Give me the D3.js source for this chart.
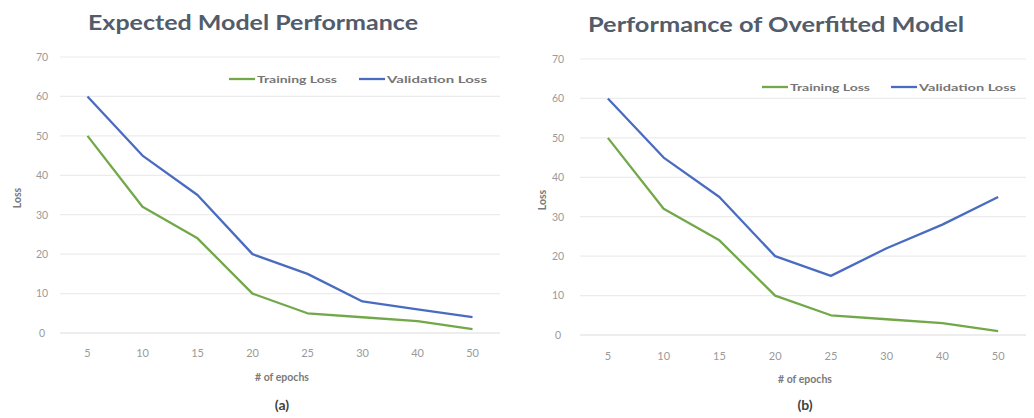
<!DOCTYPE html>
<html>
<head>
<meta charset="utf-8">
<script src="https://cdn.jsdelivr.net/npm/d3@7"></script>
<style>
  html, body { margin: 0; padding: 0; background: #ffffff; }
  svg { display: block; }
  text { font-family: Lato, "Open Sans", sans-serif; }
</style>
</head>
<body>
<svg id="chart" width="1034" height="418"></svg>
<script>
// Epoch categories shared by both panels
const epochs = ["5", "10", "15", "20", "25", "30", "40", "50"];

// Panel (a): well-behaved training
const trainingLossA = [50, 32, 24, 10, 5, 4, 3, 1];
const validationLossA = [60, 45, 35, 20, 15, 8, 6, 4];

// Panel (b): overfitting after epoch 25
const trainingLossB = [50, 32, 24, 10, 5, 4, 3, 1];
const validationLossB = [60, 45, 35, 20, 15, 22, 28, 35];

const yTicks = [0, 10, 20, 30, 40, 50, 60, 70];
const seriesNames = ["Training Loss", "Validation Loss"];
const panelTitles = ["Expected Model Performance", "Performance of Overfitted Model"];
const panelTags = ["(a)", "(b)"];

const COLORS = { train: "#72a84a", val: "#4a6cc0" };

const svg = d3.select("#chart");

function drawPanel(cfg) {
  const g = svg.append("g");
  const x = d3.scaleBand().domain(epochs).range([cfg.x0, cfg.x1]);
  const y = d3.scaleLinear().domain([0, 70]).range([cfg.yBottom, cfg.yTop]);

  // horizontal gridlines
  g.append("g")
    .selectAll("line")
    .data(yTicks)
    .join("line")
    .attr("x1", cfg.x0)
    .attr("x2", cfg.x1)
    .attr("y1", d => y(d))
    .attr("y2", d => y(d))
    .attr("stroke", d => d === 0 ? "#dcdcdc" : "#ececec")
    .attr("stroke-width", 1.2);

  // y axis labels
  const yAxis = d3.axisLeft(y).tickValues(yTicks).tickSize(0).tickPadding(0);
  g.append("g")
    .attr("transform", `translate(${cfg.yLabelX},0)`)
    .call(yAxis)
    .call(s => s.select(".domain").remove())
    .call(s => s.selectAll("text")
      .attr("fill", "#9a9a9a")
      .attr("font-size", 10.5)
      .attr("text-anchor", "middle"));

  // x axis labels
  const xAxis = d3.axisBottom(x).tickSize(0).tickPadding(0);
  g.append("g")
    .attr("transform", `translate(0,${cfg.xLabelY})`)
    .call(xAxis)
    .call(s => s.select(".domain").remove())
    .call(s => s.selectAll("text")
      .attr("fill", "#9a9a9a")
      .attr("font-size", 11));

  const line = d3.line()
    .x((d, i) => x(epochs[i]) + x.bandwidth() / 2)
    .y(d => y(d));

  g.append("path")
    .datum(cfg.train)
    .attr("d", line)
    .attr("fill", "none")
    .attr("stroke", COLORS.train)
    .attr("stroke-width", 2.3)
    .attr("stroke-linejoin", "round");

  g.append("path")
    .datum(cfg.val)
    .attr("d", line)
    .attr("fill", "none")
    .attr("stroke", COLORS.val)
    .attr("stroke-width", 2.3)
    .attr("stroke-linejoin", "round");

  // title
  g.append("text")
    .attr("x", cfg.titleX)
    .attr("y", cfg.titleY)
    .attr("text-anchor", "middle")
    .attr("font-size", 21)
    .attr("font-weight", 700)
    .attr("fill", "#525c6b")
    .attr("textLength", cfg.titleW)
    .attr("lengthAdjust", "spacingAndGlyphs")
    .text(cfg.title);

  // legend
  const legend = g.append("g").attr("transform", `translate(0,${cfg.legendY})`);
  const items = [
    { name: seriesNames[0], color: COLORS.train, lx: cfg.legendX[0], tw: cfg.legendTW[0] },
    { name: seriesNames[1], color: COLORS.val, lx: cfg.legendX[1], tw: cfg.legendTW[1] }
  ];
  items.forEach(it => {
    legend.append("line")
      .attr("x1", it.lx).attr("x2", it.lx + 26)
      .attr("y1", 0).attr("y2", 0)
      .attr("stroke", it.color).attr("stroke-width", 2.3);
    legend.append("text")
      .attr("x", it.lx + 28)
      .attr("y", 3.5)
      .attr("font-size", 10)
      .attr("font-weight", 700)
      .attr("fill", "#767676")
      .attr("textLength", it.tw)
      .attr("lengthAdjust", "spacingAndGlyphs")
      .text(it.name);
  });

  // axis titles
  g.append("text")
    .attr("transform", `translate(${cfg.lossX},${(cfg.yTop + cfg.yBottom) / 2 + 3}) rotate(-90)`)
    .attr("text-anchor", "middle")
    .attr("font-size", 10.5)
    .attr("font-weight", 700)
    .attr("fill", "#7a7a7a")
    .text("Loss");

  g.append("text")
    .attr("x", (cfg.x0 + cfg.x1) / 2 + 2)
    .attr("y", cfg.xTitleY)
    .attr("text-anchor", "middle")
    .attr("font-size", 10.5)
    .attr("font-weight", 700)
    .attr("fill", "#7a7a7a")
    .text("# of epochs");

  g.append("text")
    .attr("x", (cfg.x0 + cfg.x1) / 2 + 2)
    .attr("y", cfg.tagY)
    .attr("text-anchor", "middle")
    .attr("font-size", 14)
    .attr("font-weight", 700)
    .attr("fill", "#404040")
    .text(cfg.tag);
}

drawPanel({
  x0: 60, x1: 500, yTop: 57, yBottom: 333,
  yLabelX: 42, xLabelY: 349, xTitleY: 381, tagY: 410,
  lossX: 21, titleX: 253, titleY: 30, titleW: 330,
  legendY: 79, legendX: [229, 359], legendTW: [80, 100],
  title: panelTitles[0], tag: panelTags[0],
  train: trainingLossA, val: validationLossA
});

drawPanel({
  x0: 580, x1: 1026, yTop: 59, yBottom: 335,
  yLabelX: 558, xLabelY: 352, xTitleY: 383, tagY: 410,
  lossX: 546, titleX: 776, titleY: 32, titleW: 376,
  legendY: 87, legendX: [762, 891], legendTW: [80, 97],
  title: panelTitles[1], tag: panelTags[1],
  train: trainingLossB, val: validationLossB
});
</script>
</body>
</html>
